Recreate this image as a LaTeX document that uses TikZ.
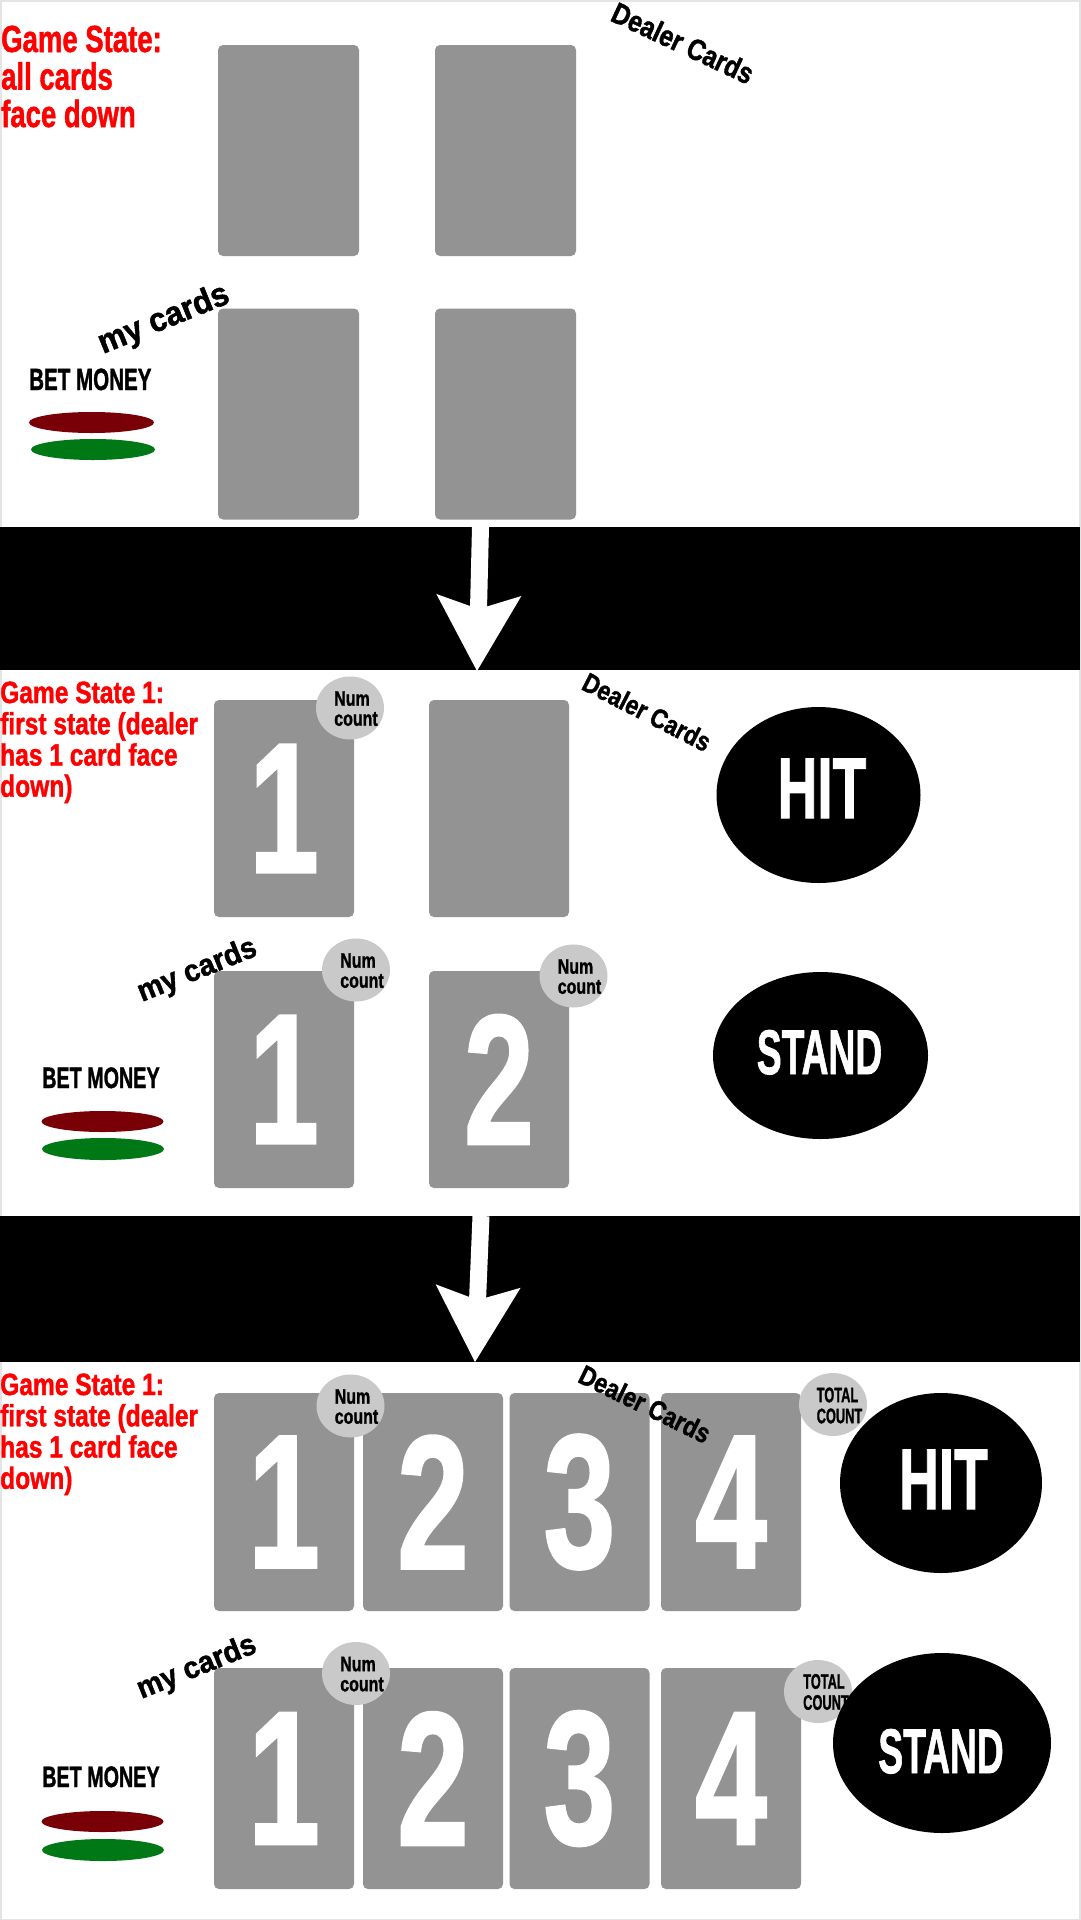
\documentclass[tikz,border=0pt]{standalone}
\usepackage{fontspec}
\usepackage{graphicx}
\usetikzlibrary{shapes.geometric,arrows.meta}
\newfontfamily\din{Liberation Sans}[FakeBold=1.5]
\newcommand{\fsz}[2]{\fontsize{#1}{#2}\selectfont}
\newcommand{\sqz}[2]{\scalebox{#1}[1]{#2}}
\definecolor{cardgray}{RGB}{147,147,147}
\definecolor{countgray}{RGB}{200,201,200}
\definecolor{chipred}{RGB}{122,0,8}
\definecolor{chipgreen}{RGB}{0,120,22}
\definecolor{titlered}{RGB}{255,0,0}
\definecolor{framegray}{RGB}{228,228,228}
\tikzset{
  card/.style={rectangle, rounded corners=5pt, fill=cardgray, inner sep=0pt,
    minimum width=140pt, text=white, font=\din\bfseries\fsz{185}{185}},
  bigcard/.style={card, font=\din\bfseries\fsz{190}{190}},
  countdot/.style={ellipse, fill=countgray, inner sep=0pt, minimum width=68pt, minimum height=63pt},
  countlbl/.style={inner sep=0pt, text=black, font=\din\bfseries\fsz{21}{20}},
  totallbl/.style={inner sep=0pt, text=black, font=\din\bfseries\fsz{21}{21}},
  button/.style={ellipse, fill=black, inner sep=0pt},
  btnlbl/.style={inner sep=0pt, text=white, anchor=base},
  chip/.style={ellipse, inner sep=0pt, minimum width=122pt, minimum height=21pt},
  title/.style={inner sep=0pt, anchor=base west, text=titlered},
  betlbl/.style={inner sep=0pt, anchor=base west, text=black, font=\din\bfseries\fsz{29.5}{30}},
  dealerlbl/.style={inner sep=0pt, text=black},
  mylbl/.style={inner sep=0pt, text=black, rotate=22},
  flow/.style={line width=17pt, white, -{Stealth[length=76pt, width=85pt, inset=14pt, line width=0pt]}}
}
\newcommand{\dg}[1]{\sqz{0.68}{#1}}
\newcommand{\numcount}{\sqz{0.76}{\begin{tabular}{@{}l@{}}Num\\count\end{tabular}}}
\newcommand{\totalcount}{\sqz{0.61}{\begin{tabular}{@{}l@{}}TOTAL\\COUNT\end{tabular}}}
\begin{document}
\begin{tikzpicture}[x=1pt,y=-1pt]
\useasboundingbox (0,0) rectangle (1080,1920);
\fill[white] (0,0) rectangle (1080,1920);
\draw[framegray, line width=3pt] (0,0) rectangle (1080,1920);

% black bands
\fill[black] (0,527) rectangle (1080,670);
\fill[black] (0,1216) rectangle (1080,1362);

% ===== Panel 1 =====
\node[title, font=\din\bfseries\fsz{37.7}{34}] (t1) at (1,52)
  {\sqz{0.73}{\begin{tabular}[t]{@{}l@{}}Game State:\\all cards\\face down\end{tabular}}};
\node[card, minimum width=141pt, minimum height=211pt] (p1d1) at (288.5,150.5) {};
\node[card, minimum width=141pt, minimum height=211pt] (p1d2) at (505.5,150.5) {};
\node[card, minimum width=141pt, minimum height=211pt] (p1m1) at (288.5,414) {};
\node[card, minimum width=141pt, minimum height=211pt] (p1m2) at (505.5,414) {};
\node[dealerlbl, rotate=-25, font=\din\bfseries\fsz{29.5}{29}] (p1dl) at (683,43) {\sqz{0.84}{Dealer Cards}};
\node[mylbl, font=\din\bfseries\fsz{33.5}{33}] (p1ml) at (164,320) {\sqz{0.94}{my cards}};
\node[betlbl, font=\din\bfseries\fsz{30.7}{30}] (p1bet) at (29,390) {\sqz{0.67}{BET MONEY}};
\node[chip, fill=chipred, minimum width=125pt] (p1red) at (91.5,422.5) {};
\node[chip, fill=chipgreen, minimum width=124pt] (p1green) at (93,449.5) {};

% arrow 1
\coordinate (a1s) at (480.5,527);
\coordinate (a1e) at (477,671);
\draw[flow] (a1s) -- (a1e);

% ===== Panel 2 =====
\node[title, font=\din\bfseries\fsz{30.7}{30}] (t2) at (0,703)
  {\sqz{0.8}{\begin{tabular}[t]{@{}l@{}}Game State 1:\\first state (dealer\\has 1 card face\\down)\end{tabular}}};
\node[card, minimum height=217pt] (p2d1) at (284,808.5) {\dg{1}};
\node[card, minimum height=217pt] (p2d2) at (499,808.5) {};
\node[card, minimum height=217pt] (p2m1) at (284,1079.5) {\dg{1}};
\node[card, minimum height=217pt] (p2m2) at (499,1079.5) {\dg{2}};
\node[countdot] (p2n1) at (350,708) {};
\node[countlbl] (p2n1l) at (356,711.5) {\numcount};
\node[countdot] (p2n3) at (356,970) {};
\node[countlbl] (p2n3l) at (362,973.5) {\numcount};
\node[countdot] (p2n4) at (573.5,976) {};
\node[countlbl] (p2n4l) at (579.5,979.5) {\numcount};
\node[dealerlbl, rotate=-27, font=\din\bfseries\fsz{27}{27}] (p2dl) at (647,712) {\sqz{0.84}{Dealer Cards}};
\node[mylbl, font=\din\bfseries\fsz{30.5}{30}] (p2ml) at (197.5,971) {\sqz{0.94}{my cards}};
\node[betlbl] (p2bet) at (42,1088) {\sqz{0.67}{BET MONEY}};
\node[chip, fill=chipred] (p2red) at (102.5,1121.5) {};
\node[chip, fill=chipgreen, minimum height=22pt] (p2green) at (103,1149) {};
\node[button, minimum width=204pt, minimum height=176pt] (p2hit) at (818.5,795) {};
\node[btnlbl, font=\din\bfseries\fsz{86}{86}] (p2hitl) at (822,818) {\sqz{0.64}{HIT}};
\node[button, minimum width=215pt, minimum height=167pt] (p2stand) at (820.5,1055.5) {};
\node[btnlbl, font=\din\bfseries\fsz{63}{63}] (p2standl) at (819.5,1074) {\sqz{0.59}{STAND}};

% arrow 2
\coordinate (a2s) at (481,1216);
\coordinate (a2e) at (475,1362);
\draw[flow] (a2s) -- (a2e);

% ===== Panel 3 =====
\node[title, font=\din\bfseries\fsz{30.7}{30}] (t3) at (0,1395)
  {\sqz{0.8}{\begin{tabular}[t]{@{}l@{}}Game State 1:\\first state (dealer\\has 1 card face\\down)\end{tabular}}};
\node[bigcard, minimum height=218pt] (p3d1) at (284,1502) {\dg{1}};
\node[bigcard, minimum height=218pt] (p3d2) at (433,1502) {\dg{2}};
\node[bigcard, minimum height=218pt] (p3d3) at (579.5,1502) {\dg{3}};
\node[bigcard, minimum height=218pt] (p3d4) at (731,1502) {\dg{4}};
\node[bigcard, minimum height=221pt] (p3m1) at (284,1778.5) {\dg{1}};
\node[bigcard, minimum height=221pt] (p3m2) at (433,1778.5) {\dg{2}};
\node[bigcard, minimum height=221pt] (p3m3) at (579.5,1778.5) {\dg{3}};
\node[bigcard, minimum height=221pt] (p3m4) at (731,1778.5) {\dg{4}};
\node[countdot] (p3n1) at (350.5,1406) {};
\node[countlbl] (p3n1l) at (356.5,1409.5) {\numcount};
\node[countdot] (p3t1) at (833,1404.5) {};
\node[totallbl] (p3t1l) at (839.5,1408.5) {\totalcount};
\node[countdot] (p3n2) at (356,1673.5) {};
\node[countlbl] (p3n2l) at (362,1677) {\numcount};
\node[countdot] (p3t2) at (818,1691.5) {};
\node[totallbl] (p3t2l) at (826,1695) {\totalcount};
\node[dealerlbl, rotate=-26, font=\din\bfseries\fsz{27.5}{27}] (p3dl) at (645,1404) {\sqz{0.84}{Dealer Cards}};
\node[mylbl, font=\din\bfseries\fsz{30.5}{30}] (p3ml) at (197,1668) {\sqz{0.94}{my cards}};
\node[betlbl] (p3bet) at (42,1787) {\sqz{0.67}{BET MONEY}};
\node[chip, fill=chipred] (p3red) at (102.5,1821.5) {};
\node[chip, fill=chipgreen, minimum height=22pt] (p3green) at (103,1850) {};
\node[button, minimum width=202pt, minimum height=180pt] (p3hit) at (941,1483) {};
\node[btnlbl, font=\din\bfseries\fsz{86}{86}] (p3hitl) at (943.5,1509) {\sqz{0.64}{HIT}};
\node[button, minimum width=218pt, minimum height=180pt] (p3stand) at (942,1743) {};
\node[btnlbl, font=\din\bfseries\fsz{63}{63}] (p3standl) at (941,1773) {\sqz{0.59}{STAND}};
\end{tikzpicture}
\end{document}
